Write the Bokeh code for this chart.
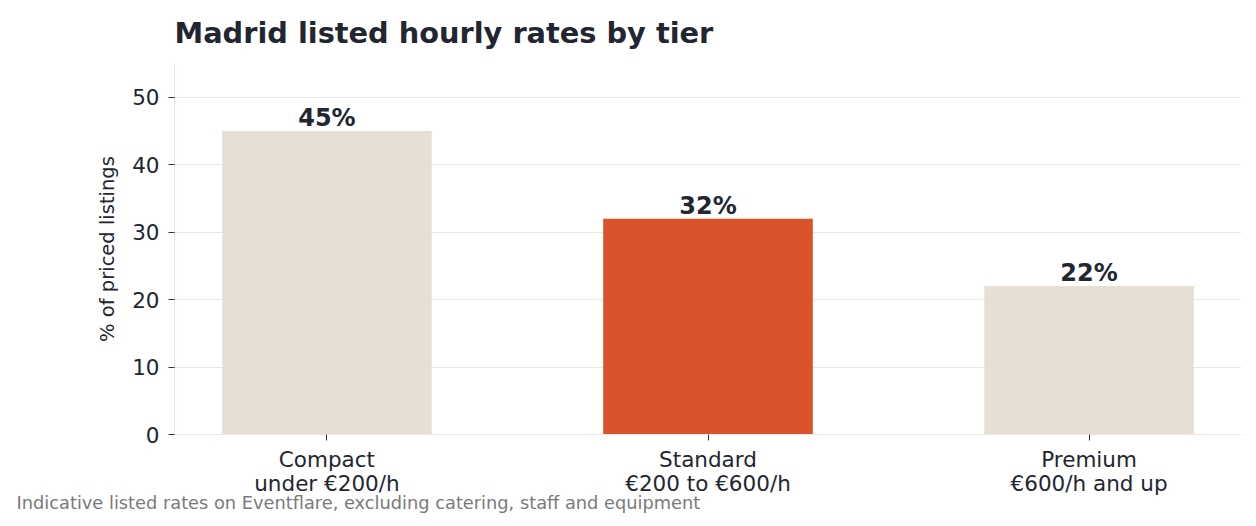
from bokeh.plotting import figure
from bokeh.models import FixedTicker, Title, ColumnDataSource, LinearAxis
from bokeh.embed import file_html
from bokeh.resources import INLINE

# Share of priced listings per hourly-rate tier
tier_names = ["Compact", "Standard", "Premium"]
tier_ranges = ["under €200/h", "€200 to €600/h", "€600/h and up"]
shares = [45, 32, 22]
bar_colors = ["#e7ded4", "#d9532c", "#e7ded4"]
share_labels = [f"{v}%" for v in shares]
y_ticks = [0, 10, 20, 30, 40, 50]

FONT = "DejaVu Sans"
INK = "#222631"
LABEL_SIZE = "21.5px"
positions = list(range(len(tier_names)))

src = ColumnDataSource(dict(x=positions, top=shares, color=bar_colors, label=share_labels))

p = figure(
    width=1256, height=526,
    x_range=(-0.4, 2.4), y_range=(0, 55),
    output_backend="svg", toolbar_location=None,
    min_border_left=174, min_border_right=15,
    min_border_top=63, min_border_bottom=92,
)
p.outline_line_color = None
p.background_fill_color = "white"
p.border_fill_color = "white"

p.title.text = "Madrid listed hourly rates by tier"
p.title.text_font = FONT
p.title.text_font_size = "28.8px"
p.title.text_font_style = "bold"
p.title.text_color = INK
p.title.align = "left"
p.title.standoff = 27

p.vbar(x="x", top="top", width=0.55, color="color", line_color=None, source=src)
p.text(x="x", y="top", text="label", source=src, text_align="center",
       text_baseline="bottom", y_offset=1, text_font_size="24px",
       text_font_style="bold", text_color=INK, text_font={"value": FONT})

# axes: tier name on the first row, price band on a second row
p.xaxis.ticker = FixedTicker(ticks=positions)
p.xaxis.major_label_overrides = {i: t for i, t in enumerate(tier_names)}
p.yaxis.ticker = FixedTicker(ticks=y_ticks)
for ax in (p.xaxis, p.yaxis):
    ax.axis_line_color = "#ebe6e0"
    ax.major_tick_line_color = "#333"
    ax.major_tick_out = 6
    ax.major_tick_in = 0
    ax.minor_tick_line_color = None
    ax.major_label_text_font = FONT
    ax.major_label_text_font_size = LABEL_SIZE
    ax.major_label_text_color = INK
p.xaxis.major_label_standoff = 6
p.yaxis.major_label_standoff = 9

band_axis = LinearAxis(
    ticker=FixedTicker(ticks=positions),
    major_label_overrides={i: t for i, t in enumerate(tier_ranges)},
    axis_line_color=None, major_tick_line_color=None, minor_tick_line_color=None,
    major_tick_out=0, major_tick_in=0, major_label_standoff=-4,
    major_label_text_font=FONT, major_label_text_font_size=LABEL_SIZE,
    major_label_text_color=INK,
)
p.add_layout(band_axis, "below")

p.yaxis.axis_label = "% of priced listings"
p.yaxis.axis_label_text_font = FONT
p.yaxis.axis_label_text_font_size = "19.5px"
p.yaxis.axis_label_text_font_style = "normal"
p.yaxis.axis_label_text_color = INK
p.yaxis.axis_label_standoff = 10

p.xgrid.grid_line_color = None
p.ygrid.grid_line_color = "#e8e8e8"
p.ygrid.grid_line_width = 1

footer = Title(text="Indicative listed rates on Eventflare, excluding catering, staff and equipment",
               align="left", offset=-158, text_font=FONT, text_font_size="17.8px",
               text_font_style="normal", text_color="#7a7a7a", standoff=-17)
p.add_layout(footer, "below")

open("out.html", "w").write(file_html(p, INLINE))
